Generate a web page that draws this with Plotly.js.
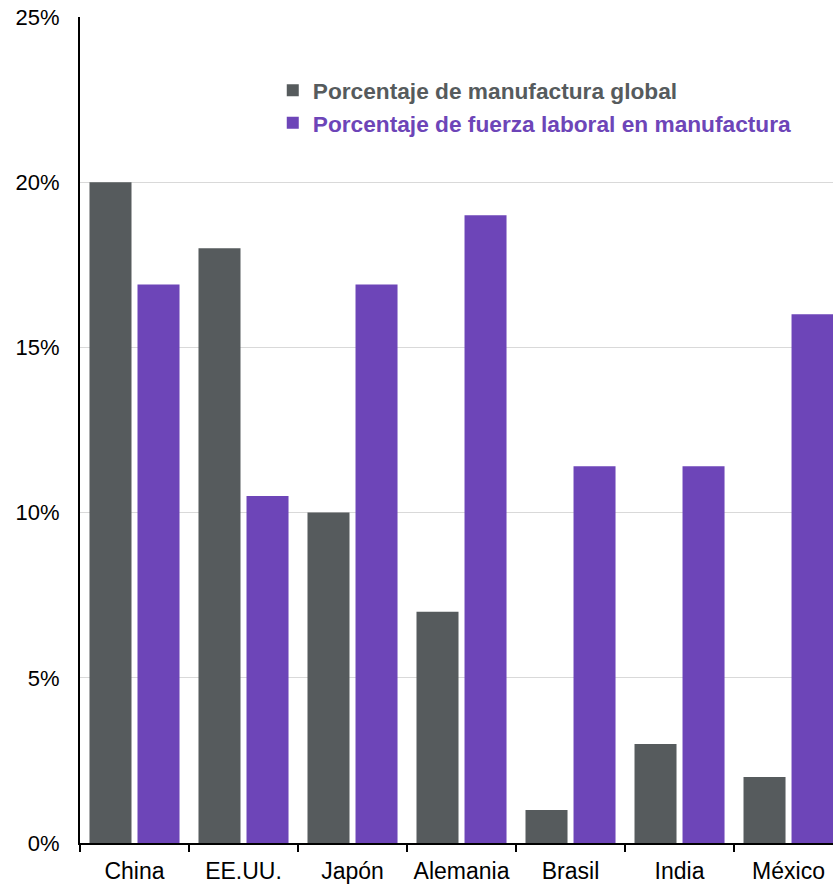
<!DOCTYPE html>
<html>
<head>
<meta charset="utf-8">
<script src="https://cdn.plot.ly/plotly-3.0.1.min.js"></script>
<style>
html,body{margin:0;padding:0;overflow:hidden;background:#fff;}
#chart{width:833px;height:886px;}
</style>
</head>
<body>
<div id="chart"></div>
<script>
const categories = ["China", "EE.UU.", "Japón", "Alemania", "Brasil", "India", "México"];
const globalManufacturing = [20, 18, 10, 7, 1, 3, 2];
const laborForceManufacturing = [16.9, 10.5, 16.9, 19, 11.4, 11.4, 16];
const yTickVals = [0, 5, 10, 15, 20, 25];
const yTickText = ["0%", "5%", "10%", "15%", "20%", "25%"];
const seriesNames = ["Porcentaje de manufactura global", "Porcentaje de fuerza laboral en manufactura"];

const GRAY = "#565b5d";
const PURPLE = "#6d45b8";

const traces = [
  {
    type: "bar",
    x: categories,
    y: globalManufacturing,
    name: "<b><span style='color:" + GRAY + "'>" + seriesNames[0] + "</span></b>",
    marker: {color: GRAY},
    hoverinfo: "skip"
  },
  {
    type: "bar",
    x: categories,
    y: laborForceManufacturing,
    name: "<b><span style='color:" + PURPLE + "'>" + seriesNames[1] + "</span></b>",
    marker: {color: PURPLE},
    hoverinfo: "skip"
  }
];

const layout = {
  width: 833,
  height: 886,
  margin: {l: 80, r: 0, t: 17, b: 43, pad: 0},
  paper_bgcolor: "#ffffff",
  plot_bgcolor: "#ffffff",
  font: {family: "Liberation Sans, Arial, sans-serif", size: 22, color: "#000000"},
  barmode: "group",
  bargap: 0.119,
  bargroupgap: 0.125,
  showlegend: true,
  legend: {
    x: 0.256, y: 0.937, xanchor: "left", yanchor: "top",
    bgcolor: "rgba(0,0,0,0)",
    font: {family: "Liberation Sans, Arial, sans-serif", size: 22.7, color: GRAY},
    itemwidth: 30,
    tracegroupgap: 0
  },
  xaxis: {
    type: "category",
    range: [-0.5, 6.408],
    showline: true, linecolor: "#000000", linewidth: 2,
    ticks: "outside", tickson: "boundaries", ticklen: 7, tickwidth: 2, tickcolor: "#000000",
    ticklabelstandoff: 6,
    showgrid: false, zeroline: false,
    tickfont: {family: "Liberation Sans, Arial, sans-serif", size: 23, color: "#000000"},
    fixedrange: true
  },
  yaxis: {
    range: [0, 25],
    tickvals: yTickVals,
    ticktext: yTickText,
    showline: true, linecolor: "#000000", linewidth: 2,
    ticks: "", ticklabelstandoff: 14,
    showgrid: true, gridcolor: "#d9d9d9", gridwidth: 1,
    zeroline: false,
    tickfont: {family: "Liberation Sans, Arial, sans-serif", size: 22, color: "#000000"},
    fixedrange: true
  }
};

Plotly.newPlot("chart", traces, layout, {displayModeBar: false, staticPlot: true});
</script>
</body>
</html>
